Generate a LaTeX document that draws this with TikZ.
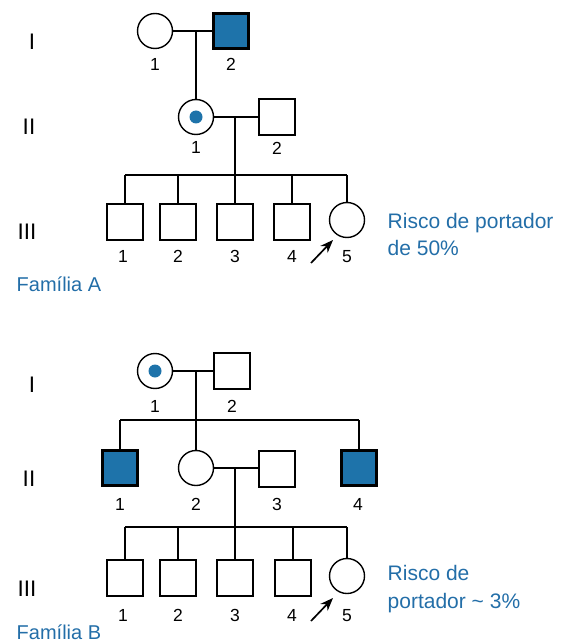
\documentclass[tikz,border=0pt]{standalone}
\usepackage{fontspec}
\setmainfont{Liberation Sans}
\usetikzlibrary{arrows.meta}
\definecolor{pblue}{RGB}{30,115,170}
\definecolor{tblue}{RGB}{35,110,168}
\begin{document}
\begin{tikzpicture}[x=1pt,y=-1pt,
  line width=1.4pt,
  male/.style={draw, rectangle, minimum size=36pt, inner sep=0},
  female/.style={draw, circle, minimum size=35pt, inner sep=0},
  affected/.style={draw, rectangle, fill=pblue, line width=2.6pt, minimum size=35.5pt, inner sep=0},
  carrier/.style={female, path picture={\fill[pblue] (path picture bounding box.center) circle (6.5pt);}},
  num/.style={font=\fontsize{17.5}{20}\selectfont, anchor=base, inner sep=0},
  gen/.style={font=\fontsize{22.5}{26}\selectfont, anchor=base, inner sep=0},
  bluetext/.style={font=\fontsize{21}{25}\selectfont, text=tblue, anchor=base west, inner sep=0},
  famtext/.style={font=\fontsize{20}{25}\selectfont, text=tblue, anchor=base west, inner sep=0},
  proband/.style={-{Stealth[length=13pt,width=10pt]}, line width=1.7pt}
]
\useasboundingbox (0,0) rectangle (564,644);

% ---------------- Family A ----------------
\node[gen] (gAI) at (32,50) {I};
\node[gen] (gAII) at (29,135) {II};
\node[gen] (gAIII) at (27,239) {III};

\node[female] (a11) at (155,31) {};
\node[affected] (a12) at (231,31) {};
\node[num] (la11) at (155,71) {1};
\node[num] (la12) at (231,71) {2};
\draw (a11.east) -- (a12.west);
\coordinate (ma1) at (196,31);
\node[carrier] (a21) at (196,117) {};
\node[male] (a22) at (277,117) {};
\node[num] (la21) at (196,154) {1};
\node[num] (la22) at (277,155) {2};
\draw (ma1) -- (a21.north);
\draw (a21.east) -- (a22.west);
\coordinate (ma2) at (235,117);
\coordinate (sa) at (235,175);
\draw (ma2) -- (sa);

\node[male] (a31) at (125,222) {};
\node[male] (a32) at (178,222) {};
\node[male] (a33) at (235,222) {};
\node[male] (a34) at (292,222) {};
\node[female] (a35) at (347,220) {};
\draw (a31.north |- sa) -- (a35.north |- sa);
\foreach \n in {a31,a32,a33,a34,a35} \draw (\n.north |- sa) -- (\n.north);
\node[num] (la31) at (123,262) {1};
\node[num] (la32) at (178,262) {2};
\node[num] (la33) at (235,262) {3};
\node[num] (la34) at (292,262) {4};
\node[num] (la35) at (347,262) {5};
\coordinate (pa1) at (311,263);
\coordinate (pa2) at (333,240);
\draw[proband] (pa1) -- (pa2);

\node[bluetext] (ra1) at (387,228) {Risco de portador};
\node[bluetext] (ra2) at (387,255) {de 50\%};
\node[famtext] (fa) at (16,291) {Família A};

% ---------------- Family B ----------------
\node[gen] (gBI) at (32,392) {I};
\node[gen] (gBII) at (29,486) {II};
\node[gen] (gBIII) at (27,596) {III};

\node[carrier] (b11) at (155,371) {};
\node[male] (b12) at (232,371) {};
\node[num] (lb11) at (155,412) {1};
\node[num] (lb12) at (232,412) {2};
\draw (b11.east) -- (b12.west);
\coordinate (mb1) at (196,371);
\coordinate (sb1) at (196,420);

\node[affected] (b21) at (120,468) {};
\node[female] (b22) at (196,468) {};
\node[male] (b23) at (277,469) {};
\node[affected] (b24) at (359,468) {};
\draw (mb1) -- (b22.north);
\draw (b21.north |- sb1) -- (b24.north |- sb1);
\draw (b21.north |- sb1) -- (b21.north);
\draw (b24.north |- sb1) -- (b24.north);
\node[num] (lb21) at (120,510) {1};
\node[num] (lb22) at (196,510) {2};
\node[num] (lb23) at (277,510) {3};
\node[num] (lb24) at (358,510) {4};
\draw (b22.east) -- (b23.west |- b22.east);
\coordinate (mb2) at (235,468);
\coordinate (sb2) at (235,527);
\draw (mb2) -- (sb2);

\node[male] (b31) at (125,578) {};
\node[male] (b32) at (178,578) {};
\node[male] (b33) at (235,578) {};
\node[male] (b34) at (293,578) {};
\node[female] (b35) at (347,576) {};
\draw (b31.north |- sb2) -- (b35.north |- sb2);
\foreach \n in {b31,b32,b33,b34,b35} \draw (\n.north |- sb2) -- (\n.north);
\node[num] (lb31) at (123,621) {1};
\node[num] (lb32) at (178,621) {2};
\node[num] (lb33) at (235,621) {3};
\node[num] (lb34) at (292,621) {4};
\node[num] (lb35) at (347,621) {5};
\coordinate (pb1) at (311,621);
\coordinate (pb2) at (333,598);
\draw[proband] (pb1) -- (pb2);

\node[bluetext] (rb1) at (387,580) {Risco de};
\node[bluetext] (rb2) at (387,608) {portador \textasciitilde{} 3\%};
\node[famtext] (fb) at (16,639) {Família B};
\end{tikzpicture}
\end{document}
